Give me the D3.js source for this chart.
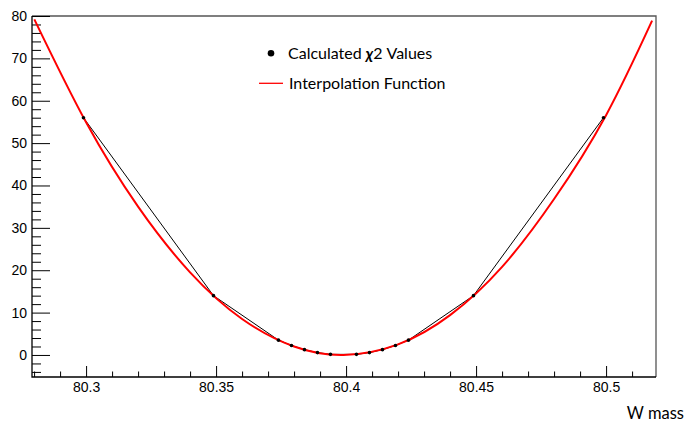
<!DOCTYPE html>
<html lang="en">
<head>
<meta charset="UTF-8">
<title>W mass chi2 scan</title>
<script src="https://d3js.org/d3.v7.min.js"></script>
<style>
  body { margin: 0; background: #fff; }
  .tick text { font-family: "Liberation Sans", Arial, sans-serif; font-size: 14px; fill: #000; }
  .lbl { font-family: Lato, "Open Sans", sans-serif; font-size: 16px; fill: #000; }
</style>
</head>
<body>
<div id="chart"></div>
<script>
// chi2 scan points
var massPoints = [80.299, 80.349, 80.374, 80.379, 80.384, 80.389, 80.394, 80.404, 80.409, 80.414, 80.419, 80.424, 80.449, 80.499];
var chi2Points = [56.0, 14.0, 3.5, 2.24, 1.26, 0.56, 0.14, 0.14, 0.56, 1.26, 2.24, 3.5, 14.0, 56.0];

// red interpolation curve
var fitMass = [80.2801, 80.30, 80.32, 80.34, 80.36, 80.38, 80.399, 80.42, 80.44, 80.46, 80.48, 80.50, 80.5177];
var fitChi2 = [79.2, 54.9, 35.0, 19.5, 8.5, 2.0, 0.0, 2.5, 9.4, 20.8, 36.8, 56.6, 78.9];

var xTicks = [80.3, 80.35, 80.4, 80.45, 80.5];
var xTickLabels = ["80.3", "80.35", "80.4", "80.45", "80.5"];
var yTicks = [0, 10, 20, 30, 40, 50, 60, 70, 80];

var width = 687, height = 425;
var pLeft = 32, pRight = 656, pTop = 16, pBottom = 377;

var svg = d3.select("#chart").append("svg")
    .attr("width", width)
    .attr("height", height);

var x = d3.scaleLinear().domain([80.2792, 80.5192]).range([pLeft, pRight]);
var y = d3.scaleLinear().domain([-5.2, 80]).range([pBottom, pTop]);

// frame: top and right in grey
svg.append("path")
    .attr("d", "M" + pLeft + "," + pTop + "H" + pRight + "V" + pBottom)
    .attr("fill", "none")
    .attr("stroke", "#555")
    .attr("stroke-width", 1.3);

// minor ticks
var xMinor = d3.range(80.28, 80.515, 0.01).filter(function (v) {
    return !xTicks.some(function (t) { return Math.abs(t - v) < 1e-6; });
});
var yMinor = d3.range(-4, 80, 2).filter(function (v) { return v % 10 !== 0; });

svg.append("g")
    .attr("transform", "translate(0," + pBottom + ")")
    .call(d3.axisBottom(x).tickValues(xMinor).tickSize(-5.5).tickFormat(""))
    .call(function (g) { g.select(".domain").remove(); });

svg.append("g")
    .attr("transform", "translate(" + pLeft + ",0)")
    .call(d3.axisLeft(y).tickValues(yMinor).tickSize(-9).tickFormat(""))
    .call(function (g) { g.select(".domain").remove(); });

// major ticks + labels
svg.append("g")
    .attr("transform", "translate(0," + pBottom + ")")
    .call(d3.axisBottom(x).tickValues(xTicks).tickSize(-11).tickPadding(5)
        .tickFormat(function (d, i) { return xTickLabels[i]; }))
    .call(function (g) { g.select(".domain").remove(); });

svg.append("g")
    .attr("transform", "translate(" + pLeft + ",0)")
    .call(d3.axisLeft(y).tickValues(yTicks).tickSize(-18).tickPadding(5))
    .call(function (g) { g.select(".domain").remove(); });

svg.selectAll(".tick line").attr("stroke", "#000");

// left and bottom axis lines
svg.append("path")
    .attr("d", "M" + pLeft + "," + pTop + "V" + pBottom + "H" + pRight)
    .attr("fill", "none")
    .attr("stroke", "#000")
    .attr("stroke-width", 1.3);

// black polyline through points
var pts = massPoints.map(function (m, i) { return [m, chi2Points[i]]; });
svg.append("path")
    .datum(pts)
    .attr("fill", "none")
    .attr("stroke", "#000")
    .attr("stroke-width", 1)
    .attr("d", d3.line()
        .x(function (d) { return x(d[0]); })
        .y(function (d) { return y(d[1]); }));

// red curve
var fit = fitMass.map(function (m, i) { return [m, fitChi2[i]]; });
svg.append("path")
    .datum(fit)
    .attr("fill", "none")
    .attr("stroke", "#ff0000")
    .attr("stroke-width", 2)
    .attr("d", d3.line()
        .curve(d3.curveNatural)
        .x(function (d) { return x(d[0]); })
        .y(function (d) { return y(d[1]); }));

svg.selectAll(".dot")
    .data(pts)
    .enter().append("circle")
    .attr("class", "dot")
    .attr("cx", function (d) { return x(d[0]); })
    .attr("cy", function (d) { return y(d[1]); })
    .attr("r", 1.8)
    .attr("fill", "#000");

// legend
svg.append("circle")
    .attr("cx", 271).attr("cy", 53.3).attr("r", 3.3)
    .attr("fill", "#000");
var t1 = svg.append("text").attr("class", "lbl").attr("x", 288).attr("y", 58.5);
t1.append("tspan").text("Calculated ");
t1.append("tspan").attr("font-style", "italic").attr("font-weight", "bold").text("χ");
t1.append("tspan").text("2 Values");

svg.append("line")
    .attr("x1", 259).attr("x2", 283)
    .attr("y1", 83.3).attr("y2", 83.3)
    .attr("stroke", "#ff0000").attr("stroke-width", 1.3);
svg.append("text").attr("class", "lbl")
    .attr("x", 289).attr("y", 89)
    .text("Interpolation Function");

// axis title
svg.append("text").attr("class", "lbl")
    .attr("x", 684).attr("y", 419)
    .attr("text-anchor", "end")
    .style("font-size", "16.5px")
    .text("W mass");
</script>
</body>
</html>
